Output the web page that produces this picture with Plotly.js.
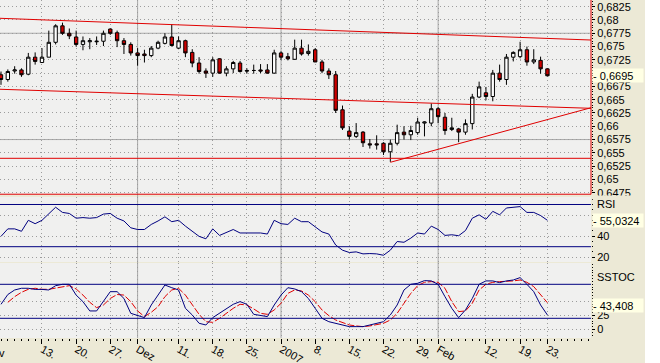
<!DOCTYPE html>
<html><head><meta charset="utf-8">
<script src="https://cdn.plot.ly/plotly-3.0.1.min.js"></script>
<style>html,body{margin:0;padding:0;background:#ffffff;}#chart{width:645px;height:363px;}</style>
</head><body><div id="chart"></div>
<script>
// ---- data (daily candles, 3 Nov 2006 .. 23 Feb 2007) ----
const firstDay = '2006-11-03', lastDay = '2007-02-23';
const dates = [];
(function(){ let d = new Date(firstDay + 'T00:00:00Z'); const e = new Date(lastDay + 'T00:00:00Z');
  while (d <= e) { const w = d.getUTCDay(); if (w !== 0 && w !== 6) dates.push(d.toISOString().slice(0,10)); d = new Date(d.getTime() + 86400000); } })();

const open = [.6697,.6688,.6704,.6706,.6698,.6730,.6720,.6730,.6758,.6789,
.6775,.6768,.6754,.6759,.6759,.6760,.6783,.6776,.6761,.6754,
.6738,.6736,.6733,.6747,.6756,.6768,.6747,.6761,.6739,.6719,
.6704,.6700,.6727,.6700,.6708,.6719,.6705,.6705,.6706,.6706,
.6700,.6738,.6731,.6726,.6747,.6737,.6744,.6721,.6704,.6697,
.6631,.6591,.6581,.6589,.6567,.6567,.6568,.6552,.6568,.6589,
.6584,.6588,.6606,.6606,.6633,.6617,.6594,.6595,.6589,.6605,
.6655,.6663,.6656,.6700,.6688,.6730,.6731,.6744,.6721,.6724,
.6708];
const high = [.6703,.6707,.6713,.6709,.6738,.6739,.6747,.6780,.6792,.6795,
.6784,.6780,.6769,.6766,.6769,.6780,.6784,.6780,.6766,.6758,
.6747,.6744,.6751,.6761,.6775,.6792,.6769,.6763,.6745,.6730,
.6709,.6730,.6728,.6713,.6723,.6723,.6709,.6716,.6717,.6717,
.6744,.6741,.6738,.6763,.6763,.6754,.6747,.6725,.6709,.6704,
.6639,.6600,.6606,.6591,.6576,.6583,.6570,.6575,.6603,.6600,
.6601,.6616,.6609,.6643,.6636,.6625,.6616,.6597,.6613,.6661,
.6684,.6674,.6706,.6716,.6736,.6741,.6759,.6750,.6745,.6731,
.6709];
const low = [.6678,.6684,.6699,.6693,.6696,.6716,.6719,.6730,.6754,.6772,
.6764,.6750,.6743,.6745,.6753,.6751,.6772,.6749,.6736,.6733,
.6714,.6720,.6730,.6745,.6754,.6750,.6745,.6730,.6711,.6699,
.6691,.6693,.6699,.6694,.6700,.6701,.6699,.6699,.6700,.6699,
.6699,.6725,.6724,.6725,.6733,.6733,.6721,.6700,.6689,.6625,
.6593,.6575,.6578,.6561,.6558,.6556,.6546,.6533,.6564,.6575,
.6574,.6584,.6581,.6600,.6606,.6584,.6591,.6570,.6584,.6594,
.6653,.6649,.6647,.6684,.6678,.6722,.6728,.6714,.6717,.6699,
.6694];
const close = [.6688,.6703,.6706,.6697,.6730,.6722,.6730,.6758,.6789,.6775,
.6770,.6754,.6761,.6761,.6760,.6775,.6775,.6761,.6754,.6738,
.6733,.6733,.6747,.6758,.6768,.6752,.6761,.6738,.6719,.6703,
.6700,.6725,.6700,.6708,.6720,.6703,.6704,.6705,.6704,.6700,
.6738,.6730,.6727,.6747,.6736,.6741,.6721,.6704,.6697,.6630,
.6597,.6581,.6588,.6569,.6565,.6565,.6552,.6568,.6588,.6584,
.6592,.6608,.6608,.6633,.6618,.6592,.6597,.6589,.6605,.6655,
.6674,.6656,.6700,.6688,.6730,.6739,.6744,.6721,.6725,.6708,
.6695];
const rsi = [39.8,46.9,46.9,44.6,55,51.8,55,60.9,67.4,62.5,
61.5,57,57.6,57,57.6,60.9,61.5,57,54.4,47.9,
46.3,46.3,51.1,54.4,58.3,53.7,55,49.5,44.6,39.8,
37.5,46.9,40.7,43.7,46.3,43,43,43,43,42,
55,51.8,51.1,57,53.7,53.7,48.5,44,42,31.6,
26.7,24.5,25.1,23.2,23.5,23.2,21.9,26.7,34.9,34.2,
38.1,43,42,49.5,46.3,40.7,41.3,40.4,45.3,57,
60.2,56,63.5,60.2,66.7,67.4,68,62.5,62.5,59.5,
55.03];
const stochK = [44.7,62,70,73,73,71,71,70,77.6,80,
80,61,49.4,33,33,49.4,67,67,55,28.8,
24.7,21.2,43.5,61,78.8,74,70,37.6,25.9,11.2,
8.2,21.2,28.8,37.6,44.7,49.4,44.7,27,24.7,23,
43.5,61,74,71.8,67,55,37.6,20,14,11.2,
8.2,5.3,5.3,5.3,8.2,11.2,14,25.9,43.5,70,
80,81.8,86.5,86,80,58.2,37.6,21.2,34.7,55,
80,86,86,83,86,87.6,91.8,80,67,43.5,
25.9];
const stochD = [null,48.2,58.2,65.9,71.2,73,71.2,71.2,73,75.9,
77.6,71.8,61,48.2,38.8,43.5,55,62,61,49.4,
33,23,30.6,40.6,58.2,70,73,61,43.5,27,
14,12.9,20,28.8,37.6,44.7,43.5,36.5,28.8,27,
34.7,46.5,64,70,68.2,61,49.4,34.7,24.7,17,
12.9,8.2,6.5,5.3,6.5,8.2,11.2,17,28.8,46.5,
64,77.6,83.5,84.7,83.5,73,49.4,31.8,33,46.5,
70,80,83.5,84.7,84.7,86,87.6,83.5,75.9,61,
47.5];

// tick labels
const xTickDates = ['2006-11-13','2006-11-20','2006-11-27','2006-12-01','2006-12-11','2006-12-18','2006-12-25','2007-01-01','2007-01-08','2007-01-15','2007-01-22','2007-01-29','2007-02-01','2007-02-12','2007-02-19','2007-02-23'];
const xTickText  = ['13.','20.','27.','Dez','11.','18.','25.','2007','8.','15.','22.','29.','Feb','12.','19.','23.'];
const monthStarts = ['2006-12-01','2007-01-01','2007-02-01'];
const priceTicks = [0.6825,0.68,0.6775,0.675,0.6725,0.67,0.6675,0.665,0.6625,0.66,0.6575,0.655,0.6525,0.65,0.6475];
const priceTickText = ['0,6825','0,68','0,6775','0,675','0,6725','','0,6675','0,665','0,6625','0,66','0,6575','0,655','0,6525','0,65','0,6475'];
const priceMajorGrid = [0.6775, 0.6575];
const rsiTicks = [20,40,60], rsiTickText = ['20','40',''], rsiLevels = [30,70];
const stochTicks = [0,25,50], stochTickText = ['0','25',''], stochLevels = [20,80];
// trend lines (price at left / right edge of the chart)
const channelTop = [0.68032, 0.67623];
const channelBottom = [0.66696, 0.66338];
const riseStartDate = '2007-01-23';
const riseLine = [0.65322, 0.66349];
const flatSupport = 0.65397;
const frameBottom = 0.64721;
const lastPrice = '0,6695', lastRsi = '55,0324', lastStoch = '43,408';
const lastPriceVal = 0.6695, lastRsiVal = 55.0324, lastStochVal = 43.408;

// ---- build ----
const xi = dates.map((d,i)=>i);
const idx = d => dates.indexOf(d);
const xRange = [-0.146, 86.38];
const mainRange = [0.647065, 0.683761];
const rsiRange = [15.5, 77.1];
const stRange = [-14.76, 117.6];
const H = 338; // plot area height in px
const W = 591; // plot area width in px
const dom = (top,bot)=>[(H-bot)/H,(H-top)/H];

const RED = '#e00000', NAVY = '#000080', GRID = '#9c9c9c', BEIGE = '#ece9d6';
const font = {family:'Liberation Sans, Arial, sans-serif', size:11, color:'#000'};

const traces = [
  {type:'candlestick', x:xi, open, high, low, close, xaxis:'x', yaxis:'y',
   increasing:{fillcolor:'#ffffff', line:{color:'#000', width:1}},
   decreasing:{fillcolor:'#cc0000', line:{color:'#000', width:1}},
   whiskerwidth:0, hoverinfo:'skip', showlegend:false},
  {type:'scatter', mode:'lines', x:xi, y:rsi, xaxis:'x', yaxis:'y2', line:{color:NAVY, width:1}, hoverinfo:'skip', showlegend:false},
  {type:'scatter', mode:'lines', x:xi, y:stochD, xaxis:'x', yaxis:'y3', line:{color:RED, width:1, dash:'7px,2px'}, hoverinfo:'skip', showlegend:false},
  {type:'scatter', mode:'lines', x:xi, y:stochK, xaxis:'x', yaxis:'y3', line:{color:NAVY, width:1}, hoverinfo:'skip', showlegend:false}
];

const shapes = [];
monthStarts.forEach(d => shapes.push({type:'line', layer:'below', xref:'x', yref:'paper', x0:idx(d), x1:idx(d), y0:0, y1:1, line:{color:'#a8a8a8', width:1}}));
priceMajorGrid.forEach(p => shapes.push({type:'line', layer:'below', xref:'paper', yref:'y', x0:0, x1:1, y0:p, y1:p, line:{color:'#a8a8a8', width:1}}));
shapes.push({type:'line', xref:'paper', yref:'y', x0:0, x1:1, y0:channelTop[0], y1:channelTop[1], line:{color:RED, width:1}});
shapes.push({type:'line', xref:'paper', yref:'y', x0:0, x1:1, y0:channelBottom[0], y1:channelBottom[1], line:{color:RED, width:1}});
shapes.push({type:'line', xref:'x', yref:'y', x0:idx(riseStartDate), x1:xRange[1], y0:riseLine[0], y1:riseLine[1], line:{color:RED, width:1}});
shapes.push({type:'line', xref:'paper', yref:'y', x0:0, x1:1, y0:flatSupport, y1:flatSupport, line:{color:RED, width:1}});
shapes.push({type:'line', xref:'paper', yref:'y', x0:0, x1:1, y0:frameBottom, y1:frameBottom, line:{color:RED, width:1}});
shapes.push({type:'line', xref:'paper', yref:'y', x0:1, x1:1, y0:frameBottom, y1:mainRange[1], line:{color:RED, width:1}});
rsiLevels.forEach(v => shapes.push({type:'line', xref:'paper', yref:'y2', x0:0, x1:1, y0:v, y1:v, line:{color:NAVY, width:1}}));
stochLevels.forEach(v => shapes.push({type:'line', xref:'paper', yref:'y3', x0:0, x1:1, y0:v, y1:v, line:{color:NAVY, width:1}}));

const boxAnn = (txt, yref, y) => ({text:'- '+txt, xref:'paper', x:592/W, xanchor:'left', yref, y, yanchor:'middle',
  showarrow:false, bgcolor:'#ffffe4', width:50, height:13, align:'left', borderpad:0, font});
const annotations = [
  // label column is clipped at the bottom of the price panel
  {text:' ', xref:'paper', x:592/W, xanchor:'left', yref:'paper', y:(H-194.6)/H, yanchor:'top', showarrow:false,
   bgcolor:BEIGE, width:52, height:3, borderpad:0, font:{size:2, color:BEIGE}},
  boxAnn(lastPrice,'y',lastPriceVal),
  boxAnn(lastRsi,'y2',lastRsiVal),
  boxAnn(lastStoch,'y3',lastStochVal),
  {text:'RSI', xref:'paper', x:595/W, xanchor:'left', yref:'y2', y:rsiLevels[1], yanchor:'middle', showarrow:false, font},
  {text:'SSTOC', xref:'paper', x:595/W, xanchor:'left', yref:'y3', y:93.4, yanchor:'middle', showarrow:false, font},
  {text:'Nov', xref:'paper', x:7/W, xanchor:'right', yref:'paper', y:(H-353)/H, yanchor:'middle', showarrow:false, font}
];

const yBase = {side:'right', anchor:'x', ticks:'outside', ticklen:3, tickcolor:'#000', showline:false, zeroline:false,
  showgrid:true, gridcolor:GRID, griddash:'1px,3px', tickfont:font, fixedrange:true};

const layout = {
  width:645, height:363, margin:{l:0, r:54, t:0, b:25},
  paper_bgcolor:BEIGE, plot_bgcolor:'#f0f0ef', font, showlegend:false,
  separators:', ',
  xaxis:{domain:[0,1], anchor:'y3', range:xRange, tickmode:'array', tickvals:xTickDates.map(idx), ticktext:xTickText,
    ticks:'outside', ticklen:5, tickcolor:'#000', ticklabelposition:'outside right', tickfont:font,
    showgrid:true, gridcolor:GRID, griddash:'1px,3px', zeroline:false, showline:false,
    minor:{ticks:'outside', ticklen:2, tickcolor:'#000', dtick:1, tick0:0, showgrid:false},
    rangeslider:{visible:false}, fixedrange:true},
  yaxis:Object.assign({}, yBase, {domain:dom(0,195), range:mainRange, tickmode:'array', tickvals:priceTicks, ticktext:priceTickText,
    minor:{ticks:'outside', ticklen:1, tickcolor:'#000', dtick:0.0005, tick0:0, showgrid:false}}),
  yaxis2:Object.assign({}, yBase, {domain:dom(197,262), range:rsiRange, tickmode:'array', tickvals:rsiTicks, ticktext:rsiTickText,
    minor:{ticks:'outside', ticklen:1, tickcolor:'#000', dtick:5, tick0:0, showgrid:false}}),
  yaxis3:Object.assign({}, yBase, {domain:dom(263,338), range:stRange, tickmode:'array', tickvals:stochTicks, ticktext:stochTickText,
    minor:{ticks:'outside', ticklen:1, tickcolor:'#000', dtick:5, tick0:0, showgrid:false}}),
  shapes, annotations
};
Plotly.newPlot('chart', traces, layout, {staticPlot:true, displayModeBar:false});
</script></body></html>
